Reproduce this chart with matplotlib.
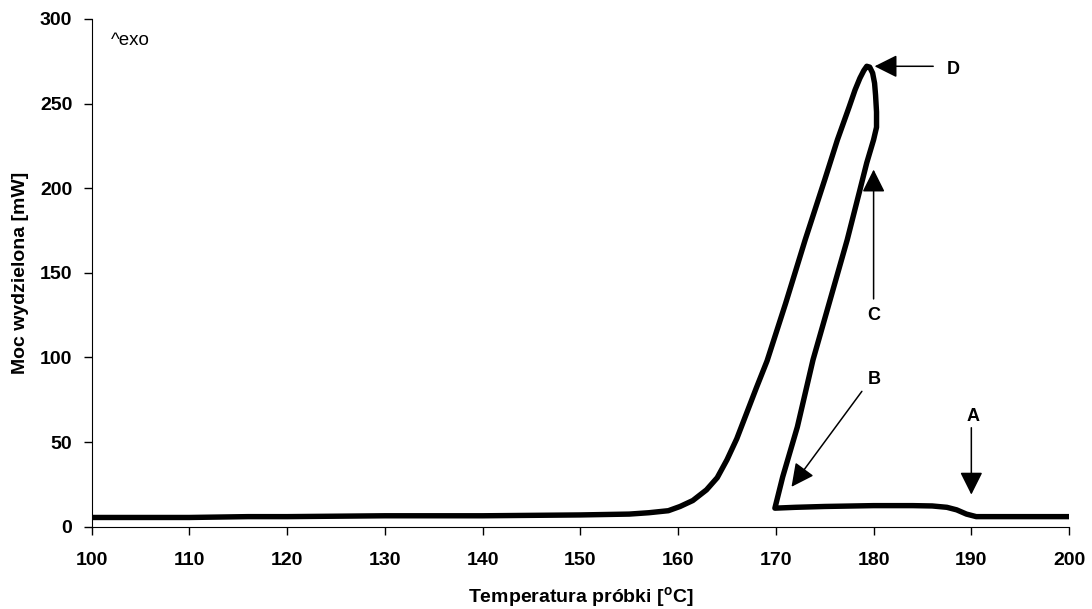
import matplotlib
matplotlib.use("Agg")
import matplotlib.pyplot as plt

plt.rcParams['font.family'] = ['Liberation Sans', 'DejaVu Sans']
plt.rcParams['mathtext.fontset'] = 'custom'
plt.rcParams['mathtext.rm'] = 'Liberation Sans'
plt.rcParams['mathtext.bf'] = 'Liberation Sans:bold'

# DSC trace: path order goes left baseline -> up to peak D -> down to B -> flat to A -> right end
temp = [100, 110, 116, 120, 130, 140, 150, 155, 157, 159, 160.2, 161.5, 162.9, 164, 165,
        166, 167, 168, 169.1, 171, 173, 175, 176.3, 177.5, 178.1, 178.6, 179.0, 179.3,
        179.6, 179.9, 180.1, 180.2, 180.3, 180.3, 180.0, 179.3, 178.6, 177.3, 175.5,
        173.8, 172.2, 170.7, 169.9, 172, 175, 180, 184, 186, 187.5, 188.5, 189.5, 190.5,
        195, 200]
power = [5.5, 5.5, 6, 6, 6.5, 6.5, 7, 7.5, 8.3, 9.5, 12, 15.5, 21.8, 29, 39.6,
         52, 67, 82, 98, 132, 169.5, 205, 228.6, 248, 258, 265, 269.5, 272,
         271.5, 268, 262, 255, 245, 236, 228.6, 215, 199, 169.5, 133,
         98.6, 59, 29.5, 11, 11.5, 12, 12.5, 12.5, 12.3, 11.5, 10, 7.5, 6,
         6, 6]

# annotation labels: (letter, text pos, arrow tail, arrow tip)
labels = ['A', 'B', 'C', 'D']
label_pos = [(190.2, 65), (180.1, 87), (180.0, 125), (188.1, 270)]
arrow_tail = [(190.0, 58.5), (178.8, 80), (180.0, 134.6), (186.1, 272)]
arrow_tip = [(190.0, 19), (171.6, 23.6), (180.0, 211), (180.1, 272)]

fig = plt.figure(figsize=(10.92, 6.09), dpi=100)
ax = fig.add_axes([0.084, 0.135, 0.895, 0.834])

ax.plot(temp, power, color='black', lw=3.9, solid_joinstyle='round', solid_capstyle='butt')

for lab, pos, tail, tip in zip(labels, label_pos, arrow_tail, arrow_tip):
    ax.annotate('', xy=tip, xytext=tail,
                arrowprops=dict(arrowstyle='-|>,head_length=1.0,head_width=0.5',
                                mutation_scale=14, color='black', lw=1.1,
                                shrinkA=0, shrinkB=0))
    ax.text(pos[0], pos[1], lab, fontsize=13, fontweight='bold', ha='center', va='center')

ax.text(0.02, 0.958, '^exo', transform=ax.transAxes, fontsize=13.5, ha='left', va='center')

ax.set_xlim(100, 200)
ax.set_ylim(0, 300)
ax.set_xticks(range(100, 201, 10))
ax.set_yticks(range(0, 301, 50))
for sp in ['top', 'right']:
    ax.spines[sp].set_visible(False)
ax.tick_params(direction='out', length=6, width=1, labelsize=14)
ax.tick_params(axis='x', pad=12)
ax.tick_params(axis='y', pad=8)
for t in ax.get_xticklabels() + ax.get_yticklabels():
    t.set_fontweight('bold')

ax.set_xlabel(r'Temperatura próbki [$^{\mathbf{o}}$C]', fontsize=14, fontweight='bold', labelpad=12)
ax.set_ylabel('Moc wydzielona [mW]', fontsize=14, fontweight='bold', labelpad=8)

fig.savefig('out.png', dpi=100)
